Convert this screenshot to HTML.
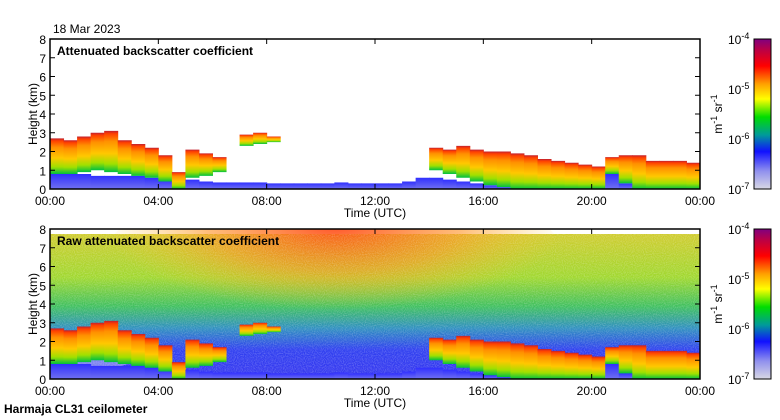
<!DOCTYPE html>
<html><head><meta charset="utf-8"><style>
html,body{margin:0;padding:0;background:#fff;}
svg{display:block;font-family:"Liberation Sans",sans-serif;}
</style></head><body>
<svg id="chart" width="780" height="420" viewBox="0 0 780 420">
<defs>
<linearGradient id="cbar" x1="0" y1="1" x2="0" y2="0">
<stop offset="0" stop-color="#d8d8e4"/><stop offset="0.12" stop-color="#9090ee"/>
<stop offset="0.25" stop-color="#1010ff"/><stop offset="0.36" stop-color="#009a9a"/>
<stop offset="0.48" stop-color="#00dd00"/><stop offset="0.6" stop-color="#ffff00"/>
<stop offset="0.7" stop-color="#ffa000"/><stop offset="0.82" stop-color="#ff0000"/>
<stop offset="0.92" stop-color="#c00040"/><stop offset="1" stop-color="#800080"/>
</linearGradient>
<linearGradient id="layer" x1="0" y1="0" x2="0" y2="1">
<stop offset="0" stop-color="#c02030"/><stop offset="0.07" stop-color="#ff4000"/>
<stop offset="0.25" stop-color="#ff9000"/><stop offset="0.55" stop-color="#ffc800"/>
<stop offset="0.8" stop-color="#a0e000"/><stop offset="1" stop-color="#00c040"/>
</linearGradient>
<linearGradient id="blueg" x1="0" y1="0" x2="0" y2="1">
<stop offset="0" stop-color="#3030ff"/><stop offset="1" stop-color="#7070f0"/>
</linearGradient>
<linearGradient id="rawbg" x1="0" y1="0" x2="0" y2="1">
<stop offset="0" stop-color="#d0cc30"/><stop offset="0.3" stop-color="#a0d830"/>
<stop offset="0.5" stop-color="#40c060"/><stop offset="0.65" stop-color="#3090c0"/>
<stop offset="0.8" stop-color="#3040f0"/><stop offset="1" stop-color="#3838f0"/>
</linearGradient>
<radialGradient id="redblob" cx="0.5" cy="0.3" r="0.5">
<stop offset="0" stop-color="#ff4010" stop-opacity="0.9"/><stop offset="0.55" stop-color="#ff9020" stop-opacity="0.6"/><stop offset="1" stop-color="#ffc020" stop-opacity="0"/>
</radialGradient>
<filter id="noise" x="0" y="0" width="100%" height="100%">
<feTurbulence type="fractalNoise" baseFrequency="0.9" numOctaves="1" seed="3"/>
<feColorMatrix type="matrix" values="0 0 0 0 1  0 0 0 0 1  0 0 0 0 1  0 0 0 1.6 -0.6"/>
</filter>
<clipPath id="c1"><rect x="50" y="39" width="650" height="150"/></clipPath>
<clipPath id="c2"><rect x="50" y="229" width="650" height="150"/></clipPath>
</defs>
<text x="53" y="33" font-size="12">18 Mar 2023</text>
<g id="p1"></g>
<g id="p2"></g>
<text x="4" y="413" font-size="12" font-weight="bold">Harmaja CL31 ceilometer</text>
</svg>
<script>
const hours = [0,0.5,1,1.5,2,2.5,3,3.5,4,4.5,5,5.5,6,6.5,7,7.5,8,8.5,9,9.5,10,10.5,11,11.5,12,12.5,13,13.5,14,14.5,15,15.5,16,16.5,17,17.5,18,18.5,19,19.5,20,20.5,21,21.5,22,22.5,23,23.5];
const layerTop = [2.7,2.6,2.8,3.0,3.1,2.6,2.4,2.2,1.8,0.9,2.1,1.9,1.7,0,2.9,3.0,2.8,0,0,0,0,0,0,0,0,0,0,0,2.2,2.1,2.3,2.1,2.0,2.0,1.9,1.8,1.6,1.5,1.4,1.3,1.2,1.7,1.8,1.8,1.5,1.5,1.5,1.4];
const layerBase = [0.8,0.8,0.9,1.0,0.9,0.8,0.7,0.6,0.4,0,0.6,0.7,0.9,0,2.3,2.4,2.5,0,0,0,0,0,0,0,0,0,0,0,1.0,0.8,0.6,0.4,0.2,0.1,0,0,0,0,0,0,0,0.8,0.3,0,0,0,0,0];
const blueTop = [0.8,0.8,0.8,0.7,0.7,0.7,0.7,0.6,0.5,0,0.5,0.4,0.35,0.35,0.35,0.35,0.3,0.3,0.3,0.3,0.3,0.35,0.3,0.3,0.3,0.3,0.4,0.6,0.6,0.5,0.4,0.3,0.2,0.1,0,0,0,0,0,0,0,0.8,0.3,0,0,0,0,0];
const yTicks = ["0","1","2","3","4","5","6","7","8"];
const xTicks = ["00:00","04:00","08:00","12:00","16:00","20:00","00:00"];
const cbarTicks = ["-4","-5","-6","-7"];

const NS = "http://www.w3.org/2000/svg";
const X0 = 50, W = 650, H = 150;
function xs(h){ return X0 + h * W / 24; }
function mk(parent, tag, attrs, text){
  const e = document.createElementNS(NS, tag);
  for (const k in attrs) e.setAttribute(k, attrs[k]);
  if (text !== undefined) e.textContent = text;
  parent.appendChild(e); return e;
}
function drawPanel(g, top, title, raw, clip){
  const ys = km => top + H - km * H / 8;
  const inner = mk(g, 'g', {'clip-path': 'url(#' + clip + ')'});
  
  
  if (raw) {
    mk(inner, 'rect', {x: X0, y: top + 5, width: W, height: H - 5, fill: 'url(#rawbg)'});
    mk(inner, 'ellipse', {cx: xs(10.5), cy: top + 30, rx: 230, ry: 85, fill: 'url(#redblob)'});
    mk(inner, 'ellipse', {cx: xs(1.5), cy: top + 125, rx: 50, ry: 15, fill: '#c8c8f0', opacity: 0.5});
    mk(inner, 'rect', {x: X0, y: top + 5, width: W, height: H - 5, filter: 'url(#noise)', opacity: 0.35});
  }
  const cw = W / 48 + 0.5;
  for (let i = 0; i < hours.length; i++) {
    if (blueTop[i] > 0) {
      const r = mk(inner, 'rect', {x: xs(hours[i]), y: ys(blueTop[i]), width: cw, height: ys(0) - ys(blueTop[i]), fill: 'url(#blueg)'});
      
      
    }
    if (layerTop[i] > 0) {
      const r = mk(inner, 'rect', {x: xs(hours[i]), y: ys(layerTop[i]), width: cw, height: ys(layerBase[i]) - ys(layerTop[i]), fill: 'url(#layer)'});
      
      
    }
  }
  mk(g, 'rect', {x: X0, y: top, width: W, height: H, fill: 'none', stroke: '#000', 'stroke-width': 1.5});
  const t = mk(g, 'text', {x: 57, y: top + 16, 'font-size': 12, 'font-weight': 'bold'}, title);
  
  
  yTicks.forEach((lab, k) => {
    const y = ys(k);
    mk(g, 'line', {x1: X0, x2: X0 + 5, y1: y, y2: y, stroke: '#000'});
    mk(g, 'line', {x1: X0 + W - 5, x2: X0 + W, y1: y, y2: y, stroke: '#000'});
    const tl = mk(g, 'text', {x: 46, y: y + 5, 'font-size': 12, 'text-anchor': 'end'}, lab);
    
    
  });
  xTicks.forEach((lab, k) => {
    const x = xs(k * 4);
    mk(g, 'line', {x1: x, x2: x, y1: top, y2: top + 5, stroke: '#000'});
    mk(g, 'line', {x1: x, x2: x, y1: top + H - 5, y2: top + H, stroke: '#000'});
    const tl = mk(g, 'text', {x: x, y: top + H + 16, 'font-size': 12, 'text-anchor': 'middle'}, lab);
    
    
  });
  const xt = mk(g, 'text', {x: 375, y: top + H + 28, 'font-size': 12, 'text-anchor': 'middle'}, 'Time (UTC)');
  
  
  const yt = mk(g, 'text', {x: 0, y: 0, 'font-size': 12, 'text-anchor': 'middle', transform: 'translate(37,' + (top + 75) + ') rotate(-90)'}, 'Height (km)');
  
  
  const cb = mk(g, 'rect', {x: 754, y: top, width: 17, height: H, fill: 'url(#cbar)', stroke: '#000'});
  
  
  cbarTicks.forEach((ex, k) => {
    const y = top + k * H / 3;
    const tl = mk(g, 'text', {x: 728, y: y + 5, 'font-size': 12});
    
    
    mk(tl, 'tspan', {}, '10');
    mk(tl, 'tspan', {dy: -5, 'font-size': 9}, ex);
  });
  const u = mk(g, 'text', {x: 0, y: 0, 'font-size': 12, 'text-anchor': 'middle', transform: 'translate(722,' + (top + 75) + ') rotate(-90)'});
  
  
  mk(u, 'tspan', {}, 'm');
  mk(u, 'tspan', {dy: -5, 'font-size': 9}, '-1');
  mk(u, 'tspan', {dy: 5}, ' sr');
  mk(u, 'tspan', {dy: -5, 'font-size': 9}, '-1');
}
drawPanel(document.getElementById('p1'), 39, 'Attenuated backscatter coefficient', false, 'c1');
drawPanel(document.getElementById('p2'), 229, 'Raw attenuated backscatter coefficient', true, 'c2');
</script>
</body></html>
